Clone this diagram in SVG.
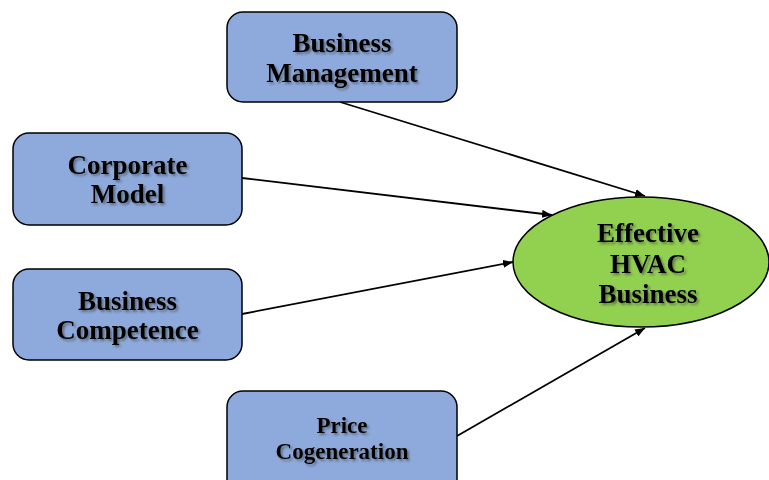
<svg xmlns="http://www.w3.org/2000/svg" width="769" height="480" viewBox="0 0 769 480">
  <defs>
    <filter id="txtShadow" x="-10%" y="-20%" width="130%" height="150%">
      <feDropShadow dx="2" dy="2" stdDeviation="1" flood-color="#3a3a3a" flood-opacity="0.55"/>
    </filter>
    <marker id="arrow" viewBox="0 0 10 8" refX="10" refY="4" markerWidth="10" markerHeight="8" markerUnits="userSpaceOnUse" orient="auto">
      <path d="M0,0 L10,4 L0,8 Z" fill="#000"/>
    </marker>
  </defs>
  <style>
    .box { fill: #8eaadc; stroke: #000; stroke-width: 1.5; }
    .goal { fill: #92d050; stroke: #000; stroke-width: 1.5; }
    .lbl { font-family: "Liberation Serif", "Times New Roman", serif; font-weight: bold; font-size: 27px; fill: #000; text-anchor: middle; filter: url(#txtShadow); }
    .lbl.small { font-size: 23px; }
    .edge { stroke: #000; stroke-width: 1.8; fill: none; marker-end: url(#arrow); }
  </style>

  <rect width="769" height="480" fill="#fff"/>

  <g id="connectors">
    <line class="edge" x1="340" y1="102" x2="645" y2="196"/>
    <line class="edge" x1="242" y1="178" x2="552" y2="215"/>
    <line class="edge" x1="242" y1="314" x2="513" y2="262"/>
    <line class="edge" x1="457" y1="436" x2="645" y2="328"/>
  </g>

  <g id="business-management">
    <rect class="box" x="227" y="12" width="230" height="90" rx="16"/>
    <text class="lbl" x="342" y="52">Business</text>
    <text class="lbl" x="342" y="82">Management</text>
  </g>

  <g id="corporate-model">
    <rect class="box" x="13" y="133" width="229" height="92" rx="16"/>
    <text class="lbl" x="127.5" y="174">Corporate</text>
    <text class="lbl" x="127.5" y="203">Model</text>
  </g>

  <g id="business-competence">
    <rect class="box" x="13" y="269" width="229" height="91" rx="16"/>
    <text class="lbl" x="127.5" y="310">Business</text>
    <text class="lbl" x="127.5" y="339">Competence</text>
  </g>

  <g id="price-cogeneration">
    <rect class="box" x="227" y="391" width="230" height="110" rx="16"/>
    <text class="lbl small" x="342" y="433">Price</text>
    <text class="lbl small" x="342" y="459">Cogeneration</text>
  </g>

  <g id="effective-hvac-business">
    <ellipse class="goal" cx="641" cy="262" rx="128" ry="65"/>
    <text class="lbl" x="648" y="242">Effective</text>
    <text class="lbl" x="648" y="273">HVAC</text>
    <text class="lbl" x="648" y="303">Business</text>
  </g>
</svg>
